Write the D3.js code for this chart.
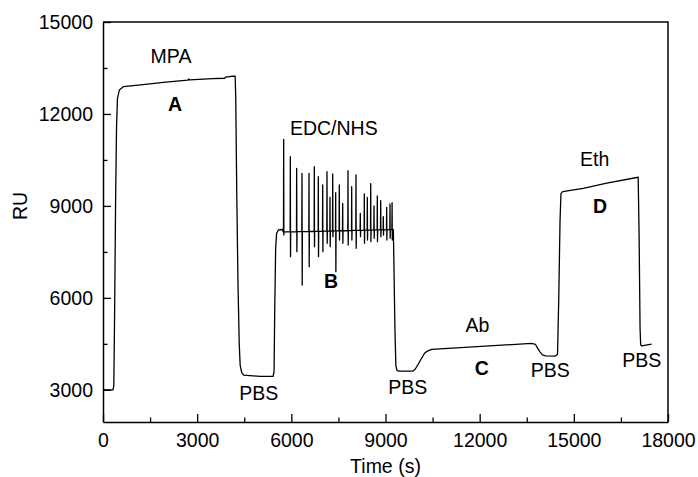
<!DOCTYPE html>
<html>
<head>
<meta charset="utf-8">
<script src="https://cdn.jsdelivr.net/npm/d3@7"></script>
<style>
  body { margin: 0; background: #fff; }
  svg text { font-family: "Liberation Sans", Arial, sans-serif; fill: #000; }
</style>
</head>
<body>
<div id="chart"></div>
<script>
// main SPR trace (time in s, response in RU), spikes kept apart below
var traceT = [0, 320, 345, 370, 400, 430, 460, 520, 650, 1200, 2000, 2700, 2730, 2760, 3500, 3880, 3900, 4150, 4210,
  4230, 4260, 4300, 4340, 4370, 4420, 4480, 5000, 5420, 5450, 5470, 5500, 5530, 5590, 5720, 5740];
var traceRU = [3000, 3000, 3150, 5500, 9000, 11500, 12500, 12780, 12890, 12950, 13040, 13105, 13140, 13110, 13150, 13165, 13200, 13235, 13230,
  12500, 9500, 6500, 4500, 3800, 3560, 3480, 3440, 3440, 3600, 5500, 7600, 8100, 8220, 8230, 8150];

// EDC/NHS injection spikes
var spikeT = [5756, 5968, 6170, 6340, 6563, 6732, 6860, 6999, 7136, 7232, 7318, 7413, 7528, 7636,
  7805, 7923, 8060, 8197, 8325, 8421, 8529, 8634, 8739, 8847, 8930, 9038, 9143, 9210];
var spikeBase = [8150, 8150, 8160, 8160, 8165, 8170, 8170, 8175, 8180, 8180, 8185, 8185, 8190, 8190,
  8195, 8200, 8200, 8205, 8210, 8210, 8210, 8215, 8215, 8220, 8220, 8225, 8225, 8230];
var spikeTop = [11173, 10606, 10226, 10063, 10063, 10279, 9953, 9682, 10116, 9281, 10041, 9431, 9682, 9085,
  10149, 9627, 10008, 8759, 9389, 9281, 9730, 8997, 9323, 9170, 8648, 8955, 9062, 9105];
var spikeBottom = [8051, 7343, 7506, 6420, 7017, 7670, 7343, 7506, 7780, 7670, 7996, 6854, 7888, 7780,
  7725, 7888, 7617, 7996, 7780, 7888, 7832, 7943, 7832, 7996, 8051, 7888, 7943, 7888];

// rest of the trace after the spikes
var tailT = [9250, 9270, 9300, 9330, 9360, 9420, 9880, 9950, 10050, 10150, 10250, 10350, 10470, 13650, 13780, 13850,
  13920, 14000, 14100, 14400, 14480, 14520, 14560, 14590, 14645, 15300, 16050, 17050, 17080, 17110, 17130, 17165, 17480];
var tailRU = [8230, 7000, 5000, 3800, 3640, 3610, 3610, 3680, 3850, 4030, 4200, 4270, 4320, 4515, 4480, 4350,
  4240, 4140, 4110, 4100, 4150, 6000, 8500, 9400, 9465, 9575, 9740, 9935, 8000, 5000, 4470, 4430, 4490];

var xTicks = [0, 3000, 6000, 9000, 12000, 15000, 18000];
var xMinor = [1500, 4500, 7500, 10500, 13500, 16500];
var yTicks = [3000, 6000, 9000, 12000, 15000];
var yMinor = [4500, 7500, 10500, 13500];

var labelText = ["MPA", "A", "EDC/NHS", "B", "Eth", "D", "Ab", "C", "PBS", "PBS", "PBS", "PBS"];
var labelT = [2166, 2294, 7353, 7264, 15665, 15834, 11931, 12065, 4960, 9711, 14251, 17162];
var labelRU = [13662, 12096, 11313, 6322, 10286, 8769, 4870, 3483, 2668, 2864, 3418, 3754];
var labelBold = [false, true, false, true, false, true, false, true, false, false, false, false];

var W = 698, H = 477;
var m = {left: 103, right: 30, top: 22, bottom: 55};
var fs = 19.5;

var svg = d3.select('#chart').append('svg')
    .attr('width', W).attr('height', H);

var x = d3.scaleLinear().domain([0, 18000]).range([m.left, W - m.right]);
var y = d3.scaleLinear().domain([1950, 15000]).range([H - m.bottom, m.top]);

// build the full series
var pts = [];
traceT.forEach(function(t, i) { pts.push([t, traceRU[i]]); });
spikeT.forEach(function(t, i) {
  pts.push([t - 6, spikeBase[i]]);
  pts.push([t, spikeTop[i]]);
  pts.push([t + 6, spikeBottom[i]]);
  pts.push([t + 12, spikeBase[i]]);
});
tailT.forEach(function(t, i) { pts.push([t, tailRU[i]]); });

var line = d3.line()
    .x(function(d) { return x(d[0]); })
    .y(function(d) { return y(d[1]); });

svg.append('path')
    .datum(pts)
    .attr('d', line)
    .attr('fill', 'none')
    .attr('stroke', '#000')
    .attr('stroke-width', 1.3)
    .attr('stroke-linejoin', 'round');

// axes, ticks pointing inward
var fmt = d3.format('d');
svg.append('g').attr('transform', 'translate(0,' + (H - m.bottom) + ')')
    .call(d3.axisBottom(x).tickValues(xTicks).tickFormat(fmt).tickSize(-8).tickSizeOuter(0).tickPadding(11));
svg.append('g').attr('transform', 'translate(0,' + (H - m.bottom) + ')')
    .call(d3.axisBottom(x).tickValues(xMinor).tickSize(-4.5).tickFormat('').tickSizeOuter(0))
    .select('.domain').remove();

svg.append('g').attr('transform', 'translate(' + m.left + ',0)')
    .call(d3.axisLeft(y).tickValues(yTicks).tickFormat(fmt).tickSize(-8).tickSizeOuter(0).tickPadding(10));
svg.append('g').attr('transform', 'translate(' + m.left + ',0)')
    .call(d3.axisLeft(y).tickValues(yMinor).tickSize(-4.5).tickFormat('').tickSizeOuter(0))
    .select('.domain').remove();

svg.selectAll('.tick line').attr('stroke-width', 1.3);
svg.selectAll('.domain').attr('stroke-width', 1.5);
svg.selectAll('.tick text').style('font-size', fs + 'px').style('font-family', '"Liberation Sans", Arial, sans-serif');

// top and right frame
svg.append('path')
    .attr('d', 'M' + m.left + ',' + m.top + 'H' + (W - m.right) + 'V' + (H - m.bottom))
    .attr('fill', 'none').attr('stroke', '#000').attr('stroke-width', 1.5);

// axis titles
svg.append('text')
    .attr('x', (m.left + W - m.right) / 2).attr('y', 473)
    .attr('text-anchor', 'middle').style('font-size', fs + 'px')
    .text('Time (s)');
svg.append('text')
    .attr('transform', 'translate(27,' + y(9000) + ') rotate(-90)')
    .attr('text-anchor', 'middle').style('font-size', fs + 'px')
    .text('RU');

// stage annotations
labelText.forEach(function(s, i) {
  svg.append('text')
      .attr('x', x(labelT[i])).attr('y', y(labelRU[i]))
      .attr('text-anchor', 'middle')
      .style('font-size', fs + 'px')
      .style('font-weight', labelBold[i] ? 'bold' : 'normal')
      .text(s);
});
</script>
</body>
</html>
